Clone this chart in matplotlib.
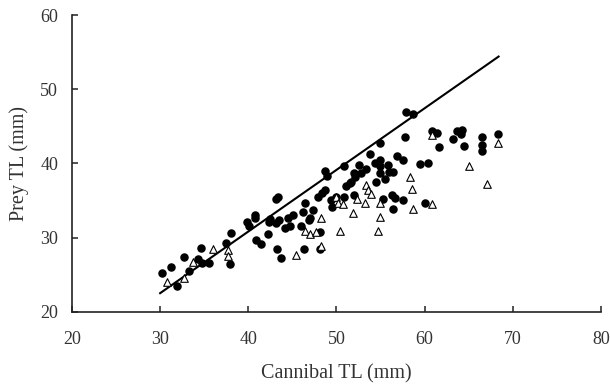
import matplotlib
matplotlib.use("Agg")
import matplotlib.pyplot as plt

# cannibalised prey, filled circles
circle_x = [30.2, 31.2, 31.9, 32.7, 33.3, 34.3, 34.6, 34.7, 35.5, 37.5,
            38.0, 37.9, 39.9, 40.1, 40.8, 40.8, 40.9, 41.4, 42.2, 42.3,
            42.5, 43.1, 43.4, 43.2, 43.5, 43.3, 43.7, 44.2, 44.5, 44.7,
            45.1, 46.2, 46.4, 46.0, 46.3, 46.9, 47.0, 47.4, 47.9, 48.1,
            48.1, 48.4, 48.7, 48.7, 48.9, 49.4, 49.5, 50.0, 50.9, 50.9,
            51.1, 51.5, 51.7, 52.0, 52.1, 52.0, 52.6, 52.8, 53.4, 53.8,
            54.4, 54.5, 54.9, 54.9, 54.9, 55.0, 55.5, 55.3, 55.8, 56.0,
            56.4, 56.3, 56.4, 56.6, 56.9, 57.5, 57.5, 57.8, 57.9, 58.7,
            59.5, 60.1, 60.4, 60.8, 61.4, 61.6, 63.2, 63.7, 64.1, 64.3,
            64.5, 66.5, 66.5, 66.5, 68.3]
circle_y = [25.2, 26.0, 23.5, 27.4, 25.5, 27.1, 28.6, 26.6, 26.6, 29.3,
            30.6, 26.5, 32.1, 31.5, 33.1, 32.6, 29.7, 29.1, 30.5, 32.1,
            32.5, 35.2, 35.5, 31.9, 32.4, 28.5, 27.3, 31.3, 32.6, 31.6,
            33.0, 33.4, 34.6, 31.6, 28.4, 32.4, 32.6, 33.7, 35.4, 30.7,
            28.5, 36.0, 36.4, 39.0, 38.3, 35.1, 34.1, 35.5, 39.6, 35.5,
            36.9, 37.3, 37.5, 38.7, 38.1, 35.7, 39.8, 38.7, 39.3, 41.2,
            40.0, 37.5, 42.8, 39.6, 38.7, 40.5, 37.9, 35.2, 39.8, 38.8,
            38.8, 35.7, 33.8, 35.3, 41.0, 40.4, 35.0, 43.5, 46.9, 46.6,
            39.9, 34.7, 40.1, 44.4, 44.1, 42.2, 43.3, 44.3, 44.0, 44.5,
            42.3, 43.5, 42.5, 41.7, 43.9]

# open triangles
tri_x = [30.8, 32.7, 33.7, 36.0, 37.7, 37.7, 45.4, 46.4, 47.0, 47.7,
         48.2, 48.2, 50.0, 50.2, 50.7, 50.4, 51.9, 52.3, 53.2, 53.4,
         53.6, 53.9, 54.7, 54.9, 55.0, 58.3, 58.6, 58.7, 60.8, 60.8,
         65.0, 67.1, 68.3]
tri_y = [24.0, 24.6, 26.7, 28.5, 28.3, 27.5, 27.6, 30.9, 30.5, 30.8,
         32.6, 28.9, 35.5, 34.6, 34.5, 30.9, 33.3, 35.2, 34.7, 37.1,
         36.4, 35.9, 30.9, 34.7, 32.8, 38.2, 36.6, 33.8, 43.8, 34.5,
         39.6, 37.2, 42.8]

# fitted line end points
line_x = [30.0, 68.4]
line_y = [22.5, 54.4]

plt.rcParams['font.family'] = ['Liberation Serif', 'DejaVu Serif']

fig = plt.figure(figsize=(6.1, 3.88), dpi=100)
ax = fig.add_axes([0.118, 0.1966, 0.867, 0.7647])

ax.plot(line_x, line_y, color='black', lw=1.5, zorder=2)
ax.scatter(circle_x, circle_y, s=26, color='black', zorder=3)
ax.scatter(tri_x, tri_y, s=30, marker='^', facecolor='white',
           edgecolor='black', linewidths=0.8, zorder=4)

ax.set_xlim(20, 80)
ax.set_ylim(20, 60)
ax.set_xticks(range(20, 81, 10))
ax.set_yticks(range(20, 61, 10))

for side in ('top', 'right'):
    ax.spines[side].set_visible(False)
for side in ('left', 'bottom'):
    ax.spines[side].set_linewidth(1.2)
    ax.spines[side].set_color('#222222')

ax.tick_params(axis='x', direction='in', length=4.5, width=1.1,
               labelsize=13, pad=14, colors='#222222', labelcolor='#333333')
ax.tick_params(axis='y', direction='in', length=4.5, width=1.1,
               labelsize=13, pad=10, colors='#222222', labelcolor='#333333')

ax.set_xlabel('Cannibal TL (mm)', fontsize=14.5, color='#333333')
ax.set_ylabel('Prey TL (mm)', fontsize=14.5, color='#333333')
ax.xaxis.set_label_coords(0.5, -0.176)
ax.yaxis.set_label_coords(-0.082, 0.5)

fig.savefig('out.png', dpi=100)
